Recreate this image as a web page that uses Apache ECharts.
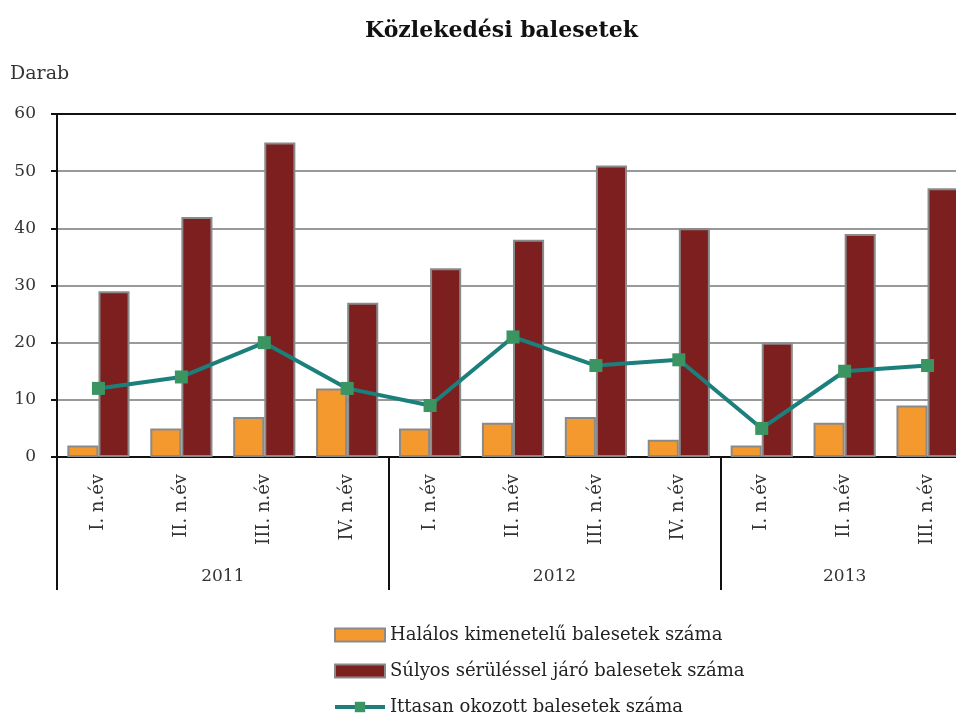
<!DOCTYPE html>
<html>
<head>
<meta charset="utf-8">
<script src="https://cdn.jsdelivr.net/npm/echarts@6/dist/echarts.min.js"></script>
<style>
  html, body { margin: 0; padding: 0; background: #fff; }
  #chart { width: 956px; height: 720px; }
</style>
</head>
<body>
<div id="chart"></div>
<script>
// negyedévek
var quarters = ['I. n.év', 'II. n.év', 'III. n.év', 'IV. n.év', 'I. n.év', 'II. n.év', 'III. n.év', 'IV. n.év', 'I. n.év', 'II. n.év', 'III. n.év'];
var years = ['2011', '2012', '2013'];
var yearCenters = [2, 6, 9.5];
var yearBounds = [0, 4, 8, 11];
var halalos = [2, 5, 7, 12, 5, 6, 7, 3, 2, 6, 9];
var sulyos = [29, 42, 55, 27, 33, 38, 51, 40, 20, 39, 47];
var ittasan = [12, 14, 20, 12, 9, 21, 16, 17, 5, 15, 16];

var serif = '"DejaVu Serif", "Liberation Serif", serif';
var chart = echarts.init(document.getElementById('chart'));

var option = {
  animation: false,
  backgroundColor: '#fff',
  textStyle: { fontFamily: serif },
  title: {
    text: 'Közlekedési balesetek',
    left: 360,
    top: 15,
    textStyle: { fontFamily: serif, fontSize: 22, fontWeight: 'bold', color: '#111' }
  },
  grid: { left: 57, top: 114, bottom: 263, width: 912, outerBoundsMode: 'none' },
  legend: {
    orient: 'vertical',
    left: 333,
    top: 626,
    padding: 0,
    itemWidth: 50,
    itemHeight: 13,
    itemGap: 18,
    textStyle: { fontFamily: serif, fontSize: 18, color: '#222' },
    data: [
      { name: 'Halálos kimenetelű balesetek száma', icon: 'rect' },
      { name: 'Súlyos sérüléssel járó balesetek száma', icon: 'rect' },
      { name: 'Ittasan okozott balesetek száma', lineStyle: { width: 4 } }
    ]
  },
  xAxis: [{
    type: 'category',
    data: quarters,
    axisLine: { lineStyle: { color: '#111', width: 2 } },
    axisTick: { show: false },
    axisLabel: { rotate: 90, margin: 17, fontSize: 18, color: '#333', fontFamily: serif }
  }, {
    type: 'value',
    min: 0,
    max: 11,
    position: 'bottom',
    axisLine: { show: false },
    splitLine: { show: false },
    axisTick: { show: true, customValues: yearBounds, length: 133, lineStyle: { color: '#111', width: 2 } },
    axisLabel: {
      customValues: yearCenters,
      margin: 111,
      fontSize: 17,
      color: '#333',
      fontFamily: serif,
      formatter: function (v) { return years[yearCenters.indexOf(v)]; }
    }
  }],
  yAxis: {
    type: 'value',
    min: 0,
    max: 60,
    interval: 10,
    name: 'Darab',
    nameLocation: 'end',
    nameGap: 30,
    nameTextStyle: { fontFamily: serif, fontSize: 19, color: '#333', align: 'left', padding: [0, 0, 0, -47] },
    axisLine: { show: true, lineStyle: { color: '#111', width: 2 } },
    axisTick: { show: true, length: 6, lineStyle: { color: '#111', width: 2 } },
    axisLabel: { fontSize: 17, color: '#333', margin: 21, fontFamily: serif },
    splitLine: { lineStyle: { color: ['#999', '#999', '#999', '#999', '#999', '#999', '#111'], width: 2 } }
  },
  series: [{
    name: 'Halálos kimenetelű balesetek száma',
    type: 'bar',
    data: halalos,
    barGap: '0%',
    barCategoryGap: '25%',
    itemStyle: { color: '#F4992E', borderColor: '#8a8a8a', borderWidth: 2 }
  }, {
    name: 'Súlyos sérüléssel járó balesetek száma',
    type: 'bar',
    data: sulyos,
    itemStyle: { color: '#7E1F1F', borderColor: '#8a8a8a', borderWidth: 2 }
  }, {
    name: 'Ittasan okozott balesetek száma',
    type: 'line',
    data: ittasan,
    symbol: 'rect',
    symbolSize: 13,
    lineStyle: { color: '#1B7F7C', width: 4 },
    itemStyle: { color: '#3A9562' },
    z: 5
  }]
};

chart.setOption(option);
</script>
</body>
</html>
